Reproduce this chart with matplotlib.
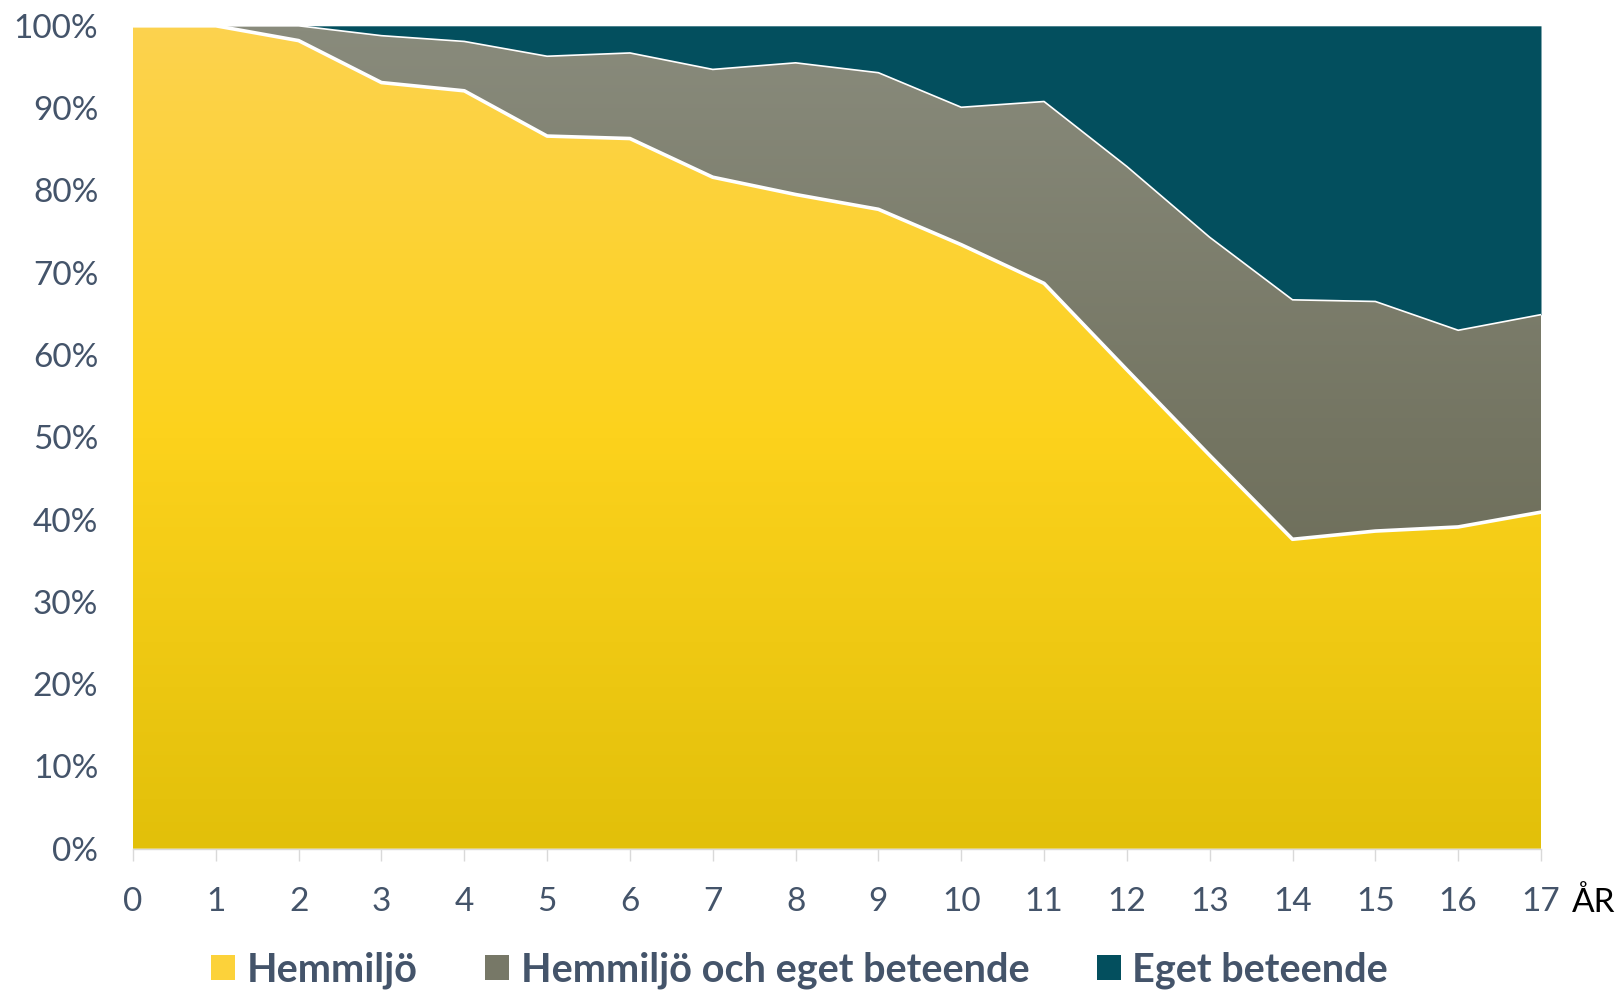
import numpy as np
import matplotlib
matplotlib.use("Agg")
import matplotlib.pyplot as plt
from matplotlib.colors import LinearSegmentedColormap
from matplotlib.patches import Polygon, Patch

plt.rcParams['font.family'] = ['Lato', 'DejaVu Sans']

ages = list(range(18))
hemmiljo = [100, 100, 98.2, 93.1, 92.1, 86.6, 86.3, 81.6, 79.5, 77.7,
            73.4, 68.7, 58.2, 47.8, 37.6, 38.6, 39.1, 40.9]
hemmiljo_och_eget = [0, 0, 1.8, 5.7, 6.0, 9.7, 10.4, 13.1, 16.0, 16.6,
                     16.7, 22.1, 24.7, 26.5, 29.1, 27.9, 23.9, 24.0]
eget = [0, 0, 0, 1.2, 1.9, 3.7, 3.3, 5.3, 4.5, 5.7,
        9.9, 9.2, 17.1, 25.7, 33.3, 33.5, 37.0, 35.1]
series_names = ["Hemmiljö", "Hemmiljö och eget beteende", "Eget beteende"]
ytick_vals = list(range(0, 101, 10))

TXT = "#44546A"
fig = plt.figure(figsize=(16.19, 9.9), dpi=100)
ax = fig.add_axes([133/1619, 1-848.7/990, (1541-133)/1619, (848.7-25.8)/990])

x = np.array(ages, dtype=float)
y1 = np.array(hemmiljo)
y2 = y1 + np.array(hemmiljo_och_eget)
y3 = y2 + np.array(eget)

yellow_cmap = LinearSegmentedColormap.from_list("y", ["#E2C00A", "#FCD21C", "#FCD24E"])
gray_cmap = LinearSegmentedColormap.from_list("g", ["#63634E", "#747562", "#898B7C"])
grad = np.linspace(0, 1, 256).reshape(-1, 1)

def grad_fill(lower, upper, cmap, z):
    verts = np.vstack([np.column_stack([x, upper]), np.column_stack([x[::-1], lower[::-1]])])
    patch = Polygon(verts, closed=True, facecolor='none', edgecolor='none')
    ax.add_patch(patch)
    im = ax.imshow(grad, extent=[0, 17, 0, 100], origin='lower', aspect='auto',
                   cmap=cmap, zorder=z, interpolation='bilinear')
    im.set_clip_path(patch)

ax.fill_between(x, y2, y3, color="#034F5E", lw=0, zorder=1)
grad_fill(y1, y2, gray_cmap, 2)
grad_fill(np.zeros_like(y1), y1, yellow_cmap, 3)
ax.plot(x, y2, color='white', lw=1.2, zorder=4)
ax.plot(x, y1, color='white', lw=2.6, zorder=5)

ax.set_xlim(0, 17)
ax.set_ylim(0, 100)
ax.set_xticks(ages)
ax.set_xticklabels([str(a) for a in ages])
ax.set_yticks(ytick_vals)
ax.set_yticklabels([f"{v}%" for v in ytick_vals])
for s in ['top', 'right', 'left']:
    ax.spines[s].set_visible(False)
ax.spines['bottom'].set_color('#D9D9D9')
ax.spines['bottom'].set_linewidth(1)
ax.spines['bottom'].set_zorder(6)
ax.tick_params(axis='x', direction='out', length=8.6, width=1, color='#D9D9D9',
               labelsize=24, labelcolor=TXT, pad=19)
ax.tick_params(axis='y', length=0, labelsize=24, labelcolor=TXT, pad=25)

fig.text(1572/1619, 1-903/990, "ÅR", fontsize=24, color='black', ha='left', va='center')

handles = [Patch(facecolor="#FCD23A"), Patch(facecolor="#777867"), Patch(facecolor="#034F5E")]
leg = fig.legend(handles, series_names, loc='center', bbox_to_anchor=(0.494, 1-970/990),
                 ncol=3, frameon=False, prop={'weight': 'bold', 'size': 28.5},
                 handlelength=0.6, handleheight=0.6, handletextpad=0.3, columnspacing=1.7)
for t in leg.get_texts():
    t.set_color(TXT)

fig.savefig("out.png", dpi=100)
